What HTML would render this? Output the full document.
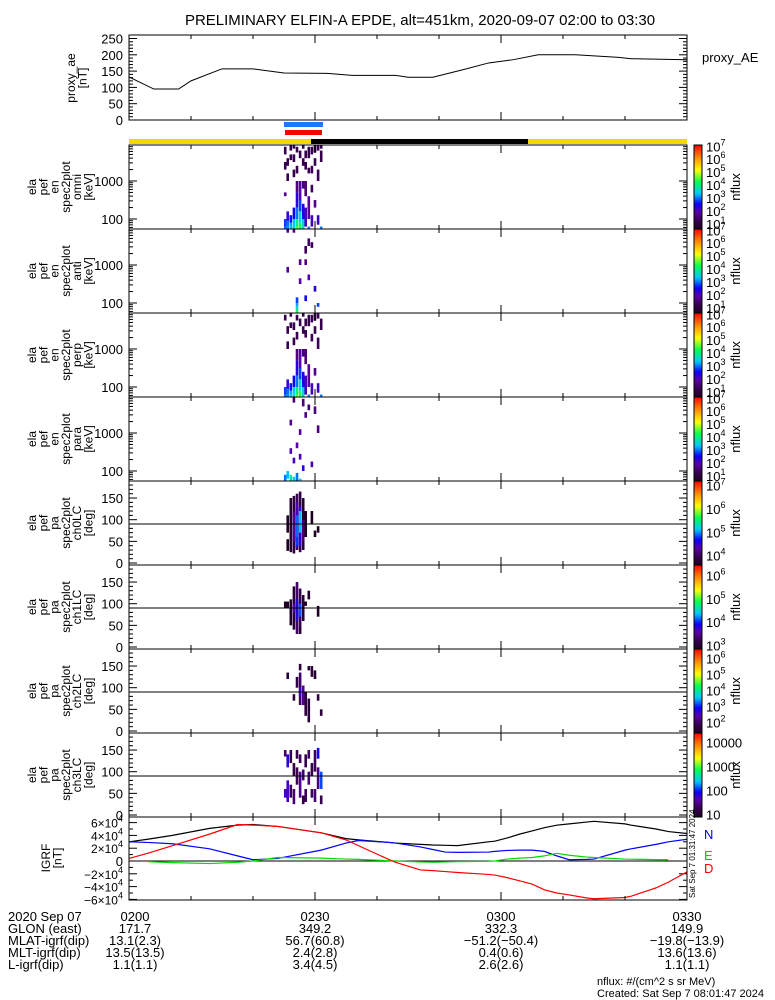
<!DOCTYPE html>
<html><head><meta charset="utf-8">
<style>
html,body{margin:0;padding:0;background:#fff;}
svg{display:block;font-family:"Liberation Sans",sans-serif;}
</style></head>
<body>
<svg id="chart" width="775" height="1000" viewBox="0 0 775 1000" xmlns="http://www.w3.org/2000/svg">
<rect width="775" height="1000" fill="#fff"/>
<text x="420" y="25" font-size="15" text-anchor="middle">PRELIMINARY ELFIN-A EPDE, alt=451km, 2020-09-07 02:00 to 03:30</text>
<text x="702" y="62" font-size="13">proxy_AE</text>
<rect x="284" y="122" width="39" height="5" fill="#1e78ff"/>
<rect x="285" y="130" width="37" height="5" fill="#ff0000"/>
<rect x="129" y="139" width="182" height="5" fill="#f5d800"/>
<rect x="311" y="139" width="217" height="5" fill="#000"/>
<rect x="528" y="139" width="159" height="5" fill="#f5d800"/>
<text x="704" y="839" font-size="13" fill="#0000ff">N</text>
<text x="704" y="860" font-size="13" fill="#00cc00">E</text>
<text x="704" y="873" font-size="13" fill="#ff0000">D</text>
<text transform="translate(695,898) rotate(-90)" font-size="8">Sat Sep  7 01:31:47 2024</text>
<g font-size="13">
<text x="8" y="921">2020 Sep 07</text>
<text x="8" y="933">GLON (east)</text>
<text x="8" y="945">MLAT-igrf(dip)</text>
<text x="8" y="957">MLT-igrf(dip)</text>
<text x="8" y="969">L-igrf(dip)</text>
</g>
<text x="597" y="985" font-size="11">nflux: #/(cm^2 s sr MeV)</text>
<text x="597" y="997" font-size="11">Created: Sat Sep  7 08:01:47 2024</text>
</svg>
<script>
// ---------- data ----------
const aeTimes = [0,4,8,10,15,20,25,32,36,43,45,49,54,58,62,66,72,79,81,90];
const aeValues = [132,95,95,120,157,157,144,143,137,137,131,131,155,175,185,200,200,192,188,185];

const igrfTimes = [0,3,7,13,17.5,20,24,31,35,37,42,43,47,49,51,53,58,59,61,63,65,67,69,71,74,75,80,81,85,87,90];
const igrfTotal = [30000,34000,40000,51000,56000,57000,54000,44000,35000,33000,29000,28000,26000,25000,24500,24000,30000,31000,36000,42000,47000,52000,56000,58000,61000,62000,58000,56000,50000,46000,43000];
const igrfN = [30000,29000,27000,19000,8000,2000,4000,17000,28000,32000,29000,28000,22000,18000,14000,13500,14000,15000,16500,17000,17000,15000,8000,2000,2500,3000,17000,19000,26000,30000,34000];
const igrfE = [null,-1000,-2500,-4000,-2000,0,5500,4500,3000,2500,500,0,-1500,-2000,-1500,-1000,-500,0,3000,4500,5500,8000,12000,9000,6000,5500,3000,2800,2200,2000,null];
const igrfD = [4000,12000,24000,42000,57000,56000,54000,44000,33000,24000,2000,-2000,-14000,-15000,-16500,-18000,-21000,-22000,-26000,-31000,-36000,-45000,-50000,-53000,-58000,-59000,-57000,-55000,-42000,-33000,-17000];

const aeTicks = [0,50,100,150,200,250];
const enTicks = [100,1000];
const paTicks = [0,50,100,150];
const igrfTicks = [60000,40000,20000,0,-20000,-40000,-60000];
const xTickTimes = [0,30,60,90];

const footerTimes = ['0200','0230','0300','0330'];
const footerGlon = ['171.7','349.2','332.3','149.9'];
const footerMlat = ['13.1(2.3)','56.7(60.8)','\u221251.2(\u221250.4)','\u221219.8(\u221213.9)'];
const footerMlt = ['13.5(13.5)','2.4(2.8)','0.4(0.6)','13.6(13.6)'];
const footerL = ['1.1(1.1)','3.4(4.5)','2.6(2.6)','1.1(1.1)'];

// spectrogram cells: [time(min), lo, hi, log10 flux]
const omniCells = [
[25.2,3.7,3.9,1.2],[25.6,3.4,3.6,1.2],[26.1,3.8,3.95,1.2],[26.6,3.5,3.7,1.2],[27.1,3.2,3.4,1.2],[27.6,3.6,3.8,1.2],[28.1,3.85,3.95,1.2],[28.5,3.3,3.5,1.2],[29.0,3.6,3.9,1.2],[29.5,3.7,3.9,1.2],[30.0,3.4,3.6,1.2],[30.5,3.8,3.95,1.3],[31.0,3.5,3.8,1.2],[25.6,3.0,3.2,1.2],[26.6,3.1,3.3,1.2],[28.1,3.4,3.6,1.2],[29.5,3.2,3.4,1.3],[30.5,3.0,3.3,1.3],[26.1,3.55,3.7,1.2],[27.1,3.75,3.9,1.2],[28.5,3.6,3.8,1.2],[29.0,3.2,3.35,1.3],[30.0,3.75,3.95,1.2],[31.0,3.85,3.95,1.2],[25.2,3.3,3.5,1.2],[26.6,3.85,3.95,1.2],
[27.1,2.7,3.0,1.6],[27.6,2.5,3.0,1.9],[28.1,2.8,3.0,1.5],[27.1,2.3,2.7,2.3],[27.6,2.2,2.5,2.8],[26.6,2.0,2.3,2.5],[27.1,2.0,2.3,3.0],[27.6,1.9,2.2,3.5],[28.1,2.0,2.4,2.4],[25.6,1.95,2.2,2.2],[26.1,1.9,2.1,2.6],[25.2,1.8,2.0,2.8],[25.6,1.8,1.95,3.0],[26.1,1.8,1.9,3.2],[26.6,1.8,2.0,3.3],[27.1,1.8,2.0,4.0],[27.6,1.8,1.9,4.3],[28.1,1.8,2.0,3.5],[26.6,1.75,1.8,3.2],[25.2,1.74,1.8,3.0],[25.6,1.74,1.8,3.1],[26.1,1.74,1.8,3.3],[26.6,1.74,1.8,3.8],[27.1,1.74,1.8,4.5],[27.6,1.74,1.8,4.2],[28.1,1.74,1.8,3.6],
[28.5,1.8,2.3,2.0],[29.0,2.0,2.6,1.8],[29.5,1.8,2.1,2.1],[30.0,2.3,2.5,1.7],[30.5,1.85,2.1,2.2],[31.0,1.74,1.8,3.0],[29.0,1.74,1.8,3.0],[28.5,2.6,3.0,1.6],[29.5,2.7,2.9,1.4],[25.2,2.6,2.7,1.7]
];
const antiCells = [
[25.6,3.85,3.95,1.6],[26.6,3.85,3.95,1.7],[29.0,3.5,3.7,1.4],[29.5,3.45,3.6,1.3],[28.5,3.3,3.5,1.3],[27.6,3.0,3.15,1.7],[28.5,3.0,3.15,1.7],[25.6,2.8,2.95,1.7],[29.0,2.6,2.75,2.0],[27.6,2.5,2.65,1.9],[30.0,2.3,2.45,2.3],[27.1,2.0,2.15,2.8],[28.5,2.05,2.2,2.5],[30.5,1.9,2.0,2.8],[27.1,1.9,2.0,3.2],[27.1,1.8,1.9,3.8],[27.1,1.74,1.8,4.3]
];
const perpCells = [
[25.2,3.75,3.9,1.2],[25.6,3.4,3.6,1.2],[26.1,3.85,3.95,1.2],[26.6,3.5,3.7,1.2],[27.1,3.25,3.45,1.2],[27.6,3.6,3.8,1.2],[28.1,3.85,3.95,1.2],[28.5,3.3,3.5,1.2],[29.0,3.6,3.9,1.2],[29.5,3.7,3.9,1.2],[30.0,3.4,3.6,1.2],[30.5,3.8,3.95,1.3],[31.0,3.5,3.8,1.2],[25.6,3.0,3.2,1.2],[26.6,3.1,3.3,1.2],[28.1,3.4,3.6,1.2],[29.5,3.2,3.4,1.3],[30.5,3.0,3.3,1.3],[26.1,3.55,3.7,1.2],[27.1,3.75,3.9,1.2],[28.5,3.6,3.8,1.2],[30.0,3.75,3.95,1.2],
[27.1,2.7,3.0,1.6],[27.6,2.5,3.0,1.9],[28.1,2.8,3.0,1.5],[27.1,2.3,2.7,2.3],[27.6,2.2,2.5,2.8],[26.6,2.0,2.3,2.5],[27.1,2.0,2.3,3.0],[27.6,1.9,2.2,3.5],[28.1,2.0,2.4,2.4],[25.6,1.95,2.2,2.2],[26.1,1.9,2.1,2.6],[25.2,1.8,2.0,2.8],[25.6,1.8,1.95,3.0],[26.1,1.8,1.9,3.2],[26.6,1.8,2.0,3.4],[27.1,1.8,2.0,4.1],[27.6,1.8,1.9,4.4],[28.1,1.8,2.0,3.5],[25.2,1.74,1.8,3.0],[25.6,1.74,1.8,3.1],[26.1,1.74,1.8,3.3],[26.6,1.74,1.8,3.8],[27.1,1.74,1.8,4.6],[27.6,1.74,1.8,4.3],[28.1,1.74,1.8,3.6],
[28.5,1.8,2.3,2.0],[29.0,2.0,2.6,1.8],[29.5,1.8,2.1,2.1],[30.0,2.3,2.5,1.7],[30.5,1.85,2.1,2.2],[31.0,1.74,1.8,3.0],[29.0,1.74,1.8,3.0],[28.5,2.6,3.0,1.6]
];
const paraCells = [
[26.6,3.8,3.95,1.5],[28.1,3.7,3.9,1.6],[29.0,3.6,3.75,1.5],[30.0,3.5,3.7,1.6],[28.5,3.4,3.55,1.6],[26.1,3.2,3.35,1.7],[30.5,3.0,3.2,1.6],[27.6,2.95,3.1,1.8],[27.1,2.6,2.75,1.9],[26.1,2.45,2.6,2.0],[27.6,2.3,2.45,2.0],[26.6,2.2,2.35,2.1],[29.5,2.1,2.25,2.0],[28.1,2.0,2.15,2.3],
[25.2,1.74,1.9,3.0],[25.6,1.8,2.0,3.3],[26.1,1.74,1.9,3.8],[26.6,1.74,1.85,3.4],[27.1,1.74,1.95,3.0],[27.6,1.74,1.8,3.5]
];
const ch0Cells = [
[25.6,28,55,3.6],[25.6,70,110,3.6],[26.1,25,150,3.7],[26.6,22,155,3.8],[27.1,30,160,4.0],[27.6,25,165,3.9],[28.1,30,150,3.7],[28.5,60,120,3.6],[29.5,90,120,3.6],[30.5,70,85,3.6],[30.0,60,75,3.6],
[26.6,50,120,4.2],[27.1,35,140,4.4],[27.6,40,130,4.5],[28.1,50,100,4.1],[27.1,60,110,4.9],[27.6,70,120,5.1],[27.1,40,60,4.8]
];
const ch1Cells = [
[25.2,90,105,2.85],[25.6,90,105,2.85],[26.1,50,110,2.9],[26.6,40,140,3.0],[27.1,30,150,3.3],[27.6,40,135,3.2],[28.1,60,120,3.0],[28.5,95,105,2.9],[29.0,110,130,2.9],[30.5,70,95,2.9],[27.6,30,45,3.0],
[27.1,60,110,3.8],[27.6,70,100,4.1],[26.6,80,100,3.6]
];
const ch2Cells = [
[25.6,120,135,1.6],[26.6,70,85,1.6],[27.1,100,125,1.7],[27.6,60,135,2.0],[28.1,60,105,2.3],[28.5,35,90,1.7],[29.0,20,75,1.6],[29.5,125,150,1.6],[30.5,70,85,1.7],[31.0,35,50,1.6],[27.6,140,155,1.6],[29.0,140,150,1.6],[30.0,120,140,1.5],[27.6,80,100,2.6]
];
const ch3Cells = [
[25.2,135,150,1.3],[25.2,40,60,1.7],[25.6,110,140,1.8],[25.6,30,80,1.7],[26.1,120,150,1.2],[26.1,40,70,1.3],[26.6,90,120,1.2],[26.6,25,60,1.4],[27.1,130,150,1.2],[27.1,70,110,1.3],[27.6,40,100,1.5],[27.6,120,140,1.3],[28.1,80,105,1.3],[28.5,30,60,1.3],[28.5,110,140,1.2],[29.0,70,100,1.4],[29.0,130,150,1.3],[29.5,40,60,1.3],[29.5,90,120,1.2],[30.0,100,150,1.3],[30.0,30,60,1.4],[30.5,60,110,1.4],[30.5,130,155,1.9],[31.0,60,100,2.1],[31.0,25,45,1.2],[28.1,25,45,1.2]
];

// ---------- layout ----------
const svg = document.getElementById('chart');
const NS = 'http://www.w3.org/2000/svg';
const X0 = 129, X1 = 687;
const xs = t => X0 + t / 90 * (X1 - X0);
function mk(tag, attrs, parent) {
  const e = document.createElementNS(NS, tag);
  for (const k in attrs) e.setAttribute(k, attrs[k]);
  (parent || svg).appendChild(e);
  return e;
}
function cmap(f) {
  const stops = [[0,[30,0,35]],[0.1,[55,0,80]],[0.2,[90,0,170]],[0.3,[10,0,255]],[0.42,[0,200,255]],[0.56,[0,255,80]],[0.7,[255,255,0]],[0.85,[255,140,0]],[1,[255,0,0]]];
  f = Math.max(0, Math.min(1, f));
  for (let i = 1; i < stops.length; i++) {
    if (f <= stops[i][0]) {
      const a = stops[i-1], b = stops[i], u = (f - a[0]) / (b[0] - a[0]);
      const c = a[1].map((v, j) => Math.round(v + (b[1][j] - v) * u));
      return 'rgb(' + c.join(',') + ')';
    }
  }
  return 'rgb(255,0,0)';
}

const panels = [
 {id:'omni', top:145, bot:229, type:'en', lbl:['ela','pef','en','spec2plot','omni','[keV]'], cmin:0.6, cmax:7.1, cl:[7,6,5,4,3,2,1], cells:omniCells},
 {id:'anti', top:229, bot:313, type:'en', lbl:['ela','pef','en','spec2plot','anti','[keV]'], cmin:0.6, cmax:7.1, cl:[7,6,5,4,3,2,1], cells:antiCells},
 {id:'perp', top:313, bot:397, type:'en', lbl:['ela','pef','en','spec2plot','perp','[keV]'], cmin:0.6, cmax:7.1, cl:[7,6,5,4,3,2,1], cells:perpCells},
 {id:'para', top:397, bot:481, type:'en', lbl:['ela','pef','en','spec2plot','para','[keV]'], cmin:0.6, cmax:7.1, cl:[7,6,5,4,3,2,1], cells:paraCells},
 {id:'ch0lc', top:481, bot:565, type:'pa', lbl:['ela','pef','pa','spec2plot','ch0LC','[deg]'], cmin:3.6, cmax:7.2, cl:[7,6,5,4], cells:ch0Cells},
 {id:'ch1lc', top:565, bot:649, type:'pa', lbl:['ela','pef','pa','spec2plot','ch1LC','[deg]'], cmin:2.85, cmax:6.45, cl:[6,5,4,3], cells:ch1Cells},
 {id:'ch2lc', top:649, bot:733, type:'pa', lbl:['ela','pef','pa','spec2plot','ch2LC','[deg]'], cmin:1.35, cmax:6.6, cl:[6,5,4,3,2], cells:ch2Cells},
 {id:'ch3lc', top:733, bot:817, type:'pa', lbl:['ela','pef','pa','spec2plot','ch3LC','[deg]'], cmin:0.9, cmax:4.4, cl:[4,3,2,1], plain:true, cells:ch3Cells}
];

function xTicks(top, bot, name) {
  for (let m = 0; m <= 90; m += 10) {
    const len = (m % 30 === 0) ? 8 : 4;
    const x = xs(m);
    const a = mk('line', {x1:x, x2:x, y1:bot, y2:bot-len, stroke:'#000', 'stroke-width':1});
    
    
    const b = mk('line', {x1:x, x2:x, y1:top, y2:top+len, stroke:'#000', 'stroke-width':1});
    
    
  }
}
function yTick(y, len, name) {
  const a = mk('line', {x1:X0, x2:X0+len, y1:y, y2:y, stroke:'#000', 'stroke-width':1});
  
  
  const b = mk('line', {x1:X1, x2:X1-len, y1:y, y2:y, stroke:'#000', 'stroke-width':1});
  
  
}
function leftLabel(lines, cy, name, x0) {
  lines.forEach((s, i) => {
    const t = mk('text', {transform:'translate(' + (x0 + i * 11.3) + ',' + cy + ') rotate(-90)', 'font-size':12, 'text-anchor':'middle'});
    t.textContent = s;
    
    
  });
}
function pow10(x, y, e, name) {
  const t = mk('text', {x:x, y:y, 'font-size':13});
  
  
  t.appendChild(document.createTextNode('10'));
  const s = mk('tspan', {dy:-6, 'font-size':9}, t);
  s.textContent = String(e);
  return t;
}

// ---------- proxy AE panel ----------
{
  const top = 35, bot = 120;
  const ya = v => bot - v * 0.326;
  const fr = mk('rect', {x:X0, y:top, width:X1-X0, height:bot-top, fill:'none', stroke:'#000', 'stroke-width':1});
  
  
  for (let v = 0; v <= 250; v += 10) yTick(ya(v), v % 50 === 0 ? 8 : 4, 'proxy-ae-y-tick');
  aeTicks.forEach(v => {
    const t = mk('text', {x:123, y:ya(v) + 5, 'font-size':13, 'text-anchor':'end'});
    t.textContent = v;
    
    
  });
  xTicks(top, bot, 'proxy-ae');
  leftLabel(['proxy_ae', '[nT]'], 78, 'proxy-ae', 75);
  const p = mk('polyline', {points: aeTimes.map((t, i) => xs(t) + ',' + ya(aeValues[i])).join(' '), fill:'none', stroke:'#000', 'stroke-width':1});
  
  
}

// ---------- spectrogram panels ----------
panels.forEach(P => {
  const h = P.bot - P.top;
  const yv = P.type === 'en'
    ? (le => P.top + 36 + (3 - le) * 38)
    : (pa => P.bot - 2 - pa * 0.433);
  const g = mk('g', {});
  
  
  P.cells.forEach(c => {
    const y1 = Math.max(P.top, Math.min(yv(c[1]), yv(c[2])));
    const y2 = Math.min(P.bot, Math.max(yv(c[1]), yv(c[2])));
    const r = mk('rect', {x:xs(c[0]) - 1.3, y:y1, width:2.6, height:Math.max(1, y2 - y1), fill:cmap((c[3] - P.cmin) / (P.cmax - P.cmin))}, g);
    
    
  });
  if (P.type === 'pa') {
    const l = mk('line', {x1:X0, x2:X1, y1:yv(90), y2:yv(90), stroke:'#000', 'stroke-width':1});
    
    
    for (let v = 0; v <= 180; v += 10) yTick(yv(v), v % 50 === 0 ? 8 : 4, P.id + '-y-tick');
    paTicks.forEach(v => {
      const t = mk('text', {x:123, y:yv(v) + 5, 'font-size':13, 'text-anchor':'end'});
      t.textContent = v;
      
      
    });
  } else {
    for (let d = 1; d <= 3; d++) for (let k = 1; k <= 9; k++) {
      const le = d + Math.log10(k);
      const y = yv(le);
      if (y < P.top || y > P.bot) continue;
      yTick(y, k === 1 ? 8 : 4, P.id + '-y-tick');
    }
    enTicks.forEach(v => {
      const t = mk('text', {x:123, y:yv(Math.log10(v)) + 5, 'font-size':13, 'text-anchor':'end'});
      t.textContent = v;
      
      
    });
  }
  const fr = mk('rect', {x:X0, y:P.top, width:X1-X0, height:h, fill:'none', stroke:'#000', 'stroke-width':1});
  
  
  xTicks(P.top, P.bot, P.id);
  leftLabel(P.lbl, (P.top + P.bot) / 2, P.id, 36);
  const N = 40;
  for (let i = 0; i < N; i++) {
    const r = mk('rect', {x:694, y:P.top + h * i / N, width:8, height:h / N + 0.5, fill:cmap(1 - (i + 0.5) / N)});
    
    
  }
  const cb = mk('rect', {x:694, y:P.top, width:8, height:h, fill:'none', stroke:'#000', 'stroke-width':1});
  
  
  P.cl.forEach(e => {
    const y = P.bot - (e - P.cmin) / (P.cmax - P.cmin) * h + 5;
    if (P.plain) {
      const t = mk('text', {x:706, y:y, 'font-size':13});
      t.textContent = String(Math.pow(10, e));
      
      
    } else {
      pow10(706, y, e, P.id + '-colorbar-label');
    }
  });
  const nf = mk('text', {transform:'translate(' + 740 + ',' + ((P.top + P.bot) / 2) + ') rotate(-90)', 'font-size':13, 'text-anchor':'middle'});
  nf.textContent = 'nflux';
  
  
});

// ---------- IGRF panel ----------
{
  const top = 817, bot = 900;
  const yi = v => 861 - v / 1e4 * 6.4;
  const z = mk('line', {x1:X0, x2:X1, y1:yi(0), y2:yi(0), stroke:'#000', 'stroke-width':1});
  
  
  for (let v = -60000; v <= 60000; v += 10000) yTick(yi(v), v % 20000 === 0 ? 8 : 4, 'igrf-y-tick');
  igrfTicks.forEach(v => {
    if (v === 0) {
      const t = mk('text', {x:123, y:yi(v) + 5, 'font-size':13, 'text-anchor':'end'});
      t.textContent = '0';
      
      
      return;
    }
    const t = mk('text', {x:123, y:yi(v) + 5, 'font-size':12, 'text-anchor':'end'});
    
    
    t.appendChild(document.createTextNode((v < 0 ? '\u2212' : '') + Math.abs(v / 1e4) + '\u00d710'));
    const s = mk('tspan', {dy:-6, 'font-size':9}, t);
    s.textContent = '4';
  });
  const series = [['igrf-total-line', igrfTotal, '#000'], ['igrf-n-line', igrfN, '#0000ff'], ['igrf-e-line', igrfE, '#00dd00'], ['igrf-d-line', igrfD, '#ff0000']];
  series.forEach(s => {
    const pts = [];
    igrfTimes.forEach((t, i) => { if (s[1][i] !== null) pts.push(xs(t) + ',' + yi(s[1][i])); });
    const p = mk('polyline', {points:pts.join(' '), fill:'none', stroke:s[2], 'stroke-width':1.2});
    
    
  });
  const fr = mk('rect', {x:X0, y:top, width:X1-X0, height:bot-top, fill:'none', stroke:'#000', 'stroke-width':1});
  
  
  xTicks(top, bot, 'igrf');
  leftLabel(['IGRF', '[nT]'], 858, 'igrf', 50);
}

// ---------- footer values ----------
const rows = [[footerTimes, 921, 'footer-time'], [footerGlon, 933, 'footer-glon'], [footerMlat, 945, 'footer-mlat'], [footerMlt, 957, 'footer-mlt'], [footerL, 969, 'footer-l']];
rows.forEach(r => {
  r[0].forEach((s, i) => {
    const x = xTickTimes[i] === 0 ? 135 : xs(xTickTimes[i]);
    const t = mk('text', {x:x, y:r[1], 'font-size':13, 'text-anchor':'middle'});
    t.textContent = s;
    
    
  });
});
</script>
</body></html>
